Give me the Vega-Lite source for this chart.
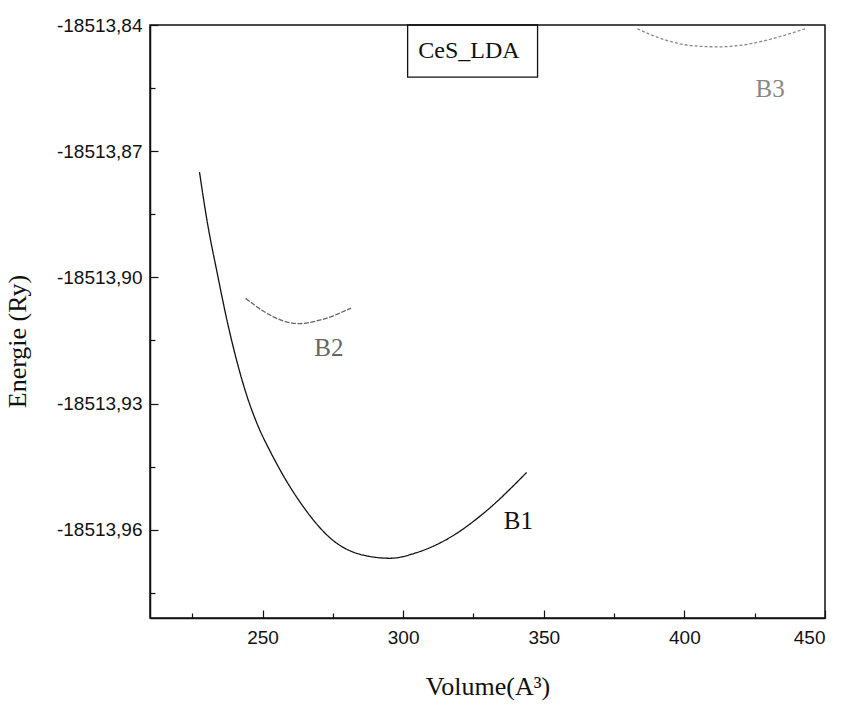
{
  "$schema": "https://vega.github.io/schema/vega-lite/v6.json",
  "width": 675,
  "height": 593,
  "autosize": {"type": "none"},
  "padding": {"left": 150, "top": 25, "right": 18, "bottom": 98},
  "background": "white",
  "config": {
    "view": {"stroke": "#111", "strokeWidth": 1.5},
    "axis": {"grid": false, "domainColor": "#111", "domainWidth": 1.5, "tickColor": "#111", "tickWidth": 1.2, "labelColor": "#111", "titleColor": "#111", "labelFont": "Liberation Sans", "labelFontSize": 19, "titleFont": "Liberation Serif", "titleFontSize": 26, "titleFontWeight": "normal"}
  },
  "datasets": {
    "curves": [
      {"band": "B1", "volume": 227.6, "energy": -18513.8750},
      {"band": "B1", "volume": 230.4, "energy": -18513.8870},
      {"band": "B1", "volume": 233.9, "energy": -18513.8990},
      {"band": "B1", "volume": 237.5, "energy": -18513.9106},
      {"band": "B1", "volume": 241.1, "energy": -18513.9205},
      {"band": "B1", "volume": 244.6, "energy": -18513.9285},
      {"band": "B1", "volume": 248.2, "energy": -18513.9350},
      {"band": "B1", "volume": 252.9, "energy": -18513.9416},
      {"band": "B1", "volume": 257.1, "energy": -18513.9468},
      {"band": "B1", "volume": 263.2, "energy": -18513.9533},
      {"band": "B1", "volume": 275.0, "energy": -18513.9625},
      {"band": "B1", "volume": 286.8, "energy": -18513.9662},
      {"band": "B1", "volume": 295.4, "energy": -18513.9668},
      {"band": "B1", "volume": 304.6, "energy": -18513.9655},
      {"band": "B1", "volume": 316.8, "energy": -18513.9618},
      {"band": "B1", "volume": 328.6, "energy": -18513.9561},
      {"band": "B1", "volume": 343.9, "energy": -18513.9464},
      {"band": "B2", "volume": 244.0, "energy": -18513.9050},
      {"band": "B2", "volume": 251.2, "energy": -18513.9084},
      {"band": "B2", "volume": 257.1, "energy": -18513.9103},
      {"band": "B2", "volume": 263.1, "energy": -18513.9110},
      {"band": "B2", "volume": 270.3, "energy": -18513.9102},
      {"band": "B2", "volume": 281.5, "energy": -18513.9073},
      {"band": "B3", "volume": 383.3, "energy": -18513.8409},
      {"band": "B3", "volume": 392.9, "energy": -18513.8435},
      {"band": "B3", "volume": 402.4, "energy": -18513.8449},
      {"band": "B3", "volume": 411.9, "energy": -18513.8452},
      {"band": "B3", "volume": 421.4, "energy": -18513.8447},
      {"band": "B3", "volume": 432.1, "energy": -18513.8431},
      {"band": "B3", "volume": 442.9, "energy": -18513.8409}
    ],
    "labels": [
      {"label": "B1", "volume": 341.0, "energy": -18513.958, "tone": "dark"},
      {"label": "B2", "volume": 273.6, "energy": -18513.9168, "tone": "mid"},
      {"label": "B3", "volume": 430.5, "energy": -18513.8553, "tone": "light"}
    ],
    "title": [
      {"label": "CeS_LDA", "volume": 323.4, "energy": -18513.8463}
    ],
    "box": [
      {"v1": 301.6, "v2": 347.8, "e1": -18513.84, "e2": -18513.8524}
    ]
  },
  "resolve": {"axis": {"x": "independent", "y": "independent"}},
  "layer": [
    {
      "data": {"name": "curves"},
      "mark": {"type": "line", "strokeWidth": 1.3, "interpolate": "monotone"},
      "encoding": {
        "x": {"field": "volume", "type": "quantitative", "scale": {"domain": [210, 450], "nice": false, "zero": false},
              "axis": {"orient": "bottom", "values": [250, 300, 350, 400, 450], "tickSize": -8, "labelPadding": 18, "title": "Volume(A³)", "titlePadding": 26, "domain": true}},
        "y": {"field": "energy", "type": "quantitative", "scale": {"domain": [-18513.981, -18513.84], "nice": false, "zero": false},
              "axis": {"orient": "left", "values": [-18513.84, -18513.87, -18513.9, -18513.93, -18513.96], "tickSize": -8, "labelPadding": 16, "labelExpr": "replace(replace(format(datum.value, '.2f'), '.', ','), '\u2212', '-')", "title": "Energie (Ry)", "titlePadding": 26, "titleY": 316, "domain": true}},
        "detail": {"field": "band"},
        "color": {"field": "band", "type": "nominal", "legend": null, "scale": {"domain": ["B1", "B2", "B3"], "range": ["#111111", "#666666", "#888888"]}},
        "strokeDash": {"field": "band", "type": "nominal", "legend": null, "scale": {"domain": ["B1", "B2", "B3"], "range": [[1, 0], [5, 1.5], [3, 2]]}}
      }
    },
    {
      "data": {"name": "box"},
      "mark": {"type": "rect", "fill": null, "stroke": "#111", "strokeWidth": 1.3},
      "encoding": {
        "x": {"field": "v1", "type": "quantitative",
              "axis": {"orient": "bottom", "values": [225, 275, 325, 375, 425], "tickSize": -5, "labels": false, "domain": false, "title": null}},
        "x2": {"field": "v2"},
        "y": {"field": "e1", "type": "quantitative",
              "axis": {"orient": "left", "values": [-18513.855, -18513.885, -18513.915, -18513.945, -18513.975], "tickSize": -5, "labels": false, "domain": false, "title": null}},
        "y2": {"field": "e2"}
      }
    },
    {
      "data": {"name": "labels"},
      "mark": {"type": "text", "font": "Liberation Serif", "fontSize": 25, "align": "center", "baseline": "middle"},
      "encoding": {
        "x": {"field": "volume", "type": "quantitative", "axis": null},
        "y": {"field": "energy", "type": "quantitative", "axis": null},
        "text": {"field": "label"},
        "color": {"field": "tone", "type": "nominal", "legend": null, "scale": {"domain": ["dark", "mid", "light"], "range": ["#111111", "#333333", "#777777"]}}
      }
    },
    {
      "data": {"name": "title"},
      "mark": {"type": "text", "font": "Liberation Serif", "fontSize": 24, "align": "center", "baseline": "middle", "color": "#111"},
      "encoding": {
        "x": {"field": "volume", "type": "quantitative", "axis": null},
        "y": {"field": "energy", "type": "quantitative", "axis": null},
        "text": {"field": "label"}
      }
    }
  ]
}
